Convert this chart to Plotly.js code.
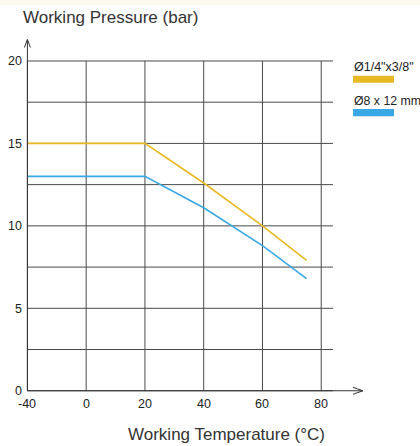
<!DOCTYPE html>
<html>
<head>
<meta charset="utf-8">
<script src="https://cdn.plot.ly/plotly-3.0.1.min.js"></script>
<style>html,body{margin:0;padding:0;background:#fff;}</style>
</head>
<body>
<div id="chart" style="width:420px;height:446px;"></div>
<script>
// ---- data ----
var temperatures = [-40, 20, 40, 60, 75];
var pressureQuarter = [15, 15, 12.6, 10, 7.9];   // Ø1/4"x3/8"
var pressure8x12 = [13, 13, 11.1, 8.8, 6.8];     // Ø8 x 12 mm
var seriesNames = ['Ø1/4"x3/8"', 'Ø8 x 12 mm'];
var xTickValues = [-40, 0, 20, 40, 60, 80];
var yTickValues = [0, 5, 10, 15, 20];
var yGridValues = [0, 2.5, 5, 7.5, 10, 12.5, 15, 17.5, 20];

// axis has a compressed segment: -40..0 occupies the same width as 0..20
function axisPos(t) { return t < 0 ? t / 2 : t; }

var colors = ['#e8b923', '#3aa8e4'];
var gridColor = '#4a4a4a';

var traces = [
  {x: temperatures.map(axisPos), y: pressureQuarter, name: seriesNames[0], mode: 'lines',
   line: {color: colors[0], width: 1.6}, showlegend: false},
  {x: temperatures.map(axisPos), y: pressure8x12, name: seriesNames[1], mode: 'lines',
   line: {color: colors[1], width: 1.6}, showlegend: false}
];

var xMin = axisPos(xTickValues[0]);
var yMax = yTickValues[yTickValues.length - 1];

// plot area: 357.4px for x range 121.5, 371.25px for y range 22.5
var pxX = 121.5 / 357.4, pxY = 22.5 / 371.25;

var shapes = [];
// top cream strip
shapes.push({type: 'rect', xref: 'paper', yref: 'paper', x0: -0.1, x1: 1.2, y0: 1.062, y1: 1.076,
  fillcolor: '#fcf9ef', line: {width: 0}, layer: 'below'});
// horizontal grid lines
yGridValues.forEach(function (v) {
  shapes.push({type: 'line', xref: 'x', yref: 'y', x0: xMin, x1: 84, y0: v, y1: v,
    line: {color: gridColor, width: 1}, layer: 'below'});
});
// vertical grid lines
xTickValues.forEach(function (t) {
  shapes.push({type: 'line', xref: 'x', yref: 'y', x0: axisPos(t), x1: axisPos(t), y0: 0, y1: yMax,
    line: {color: gridColor, width: 1}, layer: 'below'});
});
// axis lines with arrows
var yTip = 21.3, xTip = 94.2;
shapes.push({type: 'line', xref: 'x', yref: 'y', x0: xMin, x1: xMin, y0: 0, y1: yTip,
  line: {color: '#333', width: 1}});
shapes.push({type: 'line', xref: 'x', yref: 'y', x0: xMin, x1: xTip, y0: 0, y1: 0,
  line: {color: '#333', width: 1}});
shapes.push({type: 'path', xref: 'x', yref: 'y',
  path: 'M' + (xMin - 3 * pxX) + ',' + (yTip - 8 * pxY) + ' L' + xMin + ',' + yTip + ' L' + (xMin + 3 * pxX) + ',' + (yTip - 8 * pxY),
  line: {color: '#333', width: 1}});
shapes.push({type: 'path', xref: 'x', yref: 'y',
  path: 'M' + (xTip - 10 * pxX) + ',' + (3.5 * pxY) + ' L' + xTip + ',0 L' + (xTip - 10 * pxX) + ',' + (-3.5 * pxY),
  line: {color: '#333', width: 1}});
// legend swatches
shapes.push({type: 'rect', xref: 'paper', yref: 'paper', x0: 0.9245, x1: 1.0392, y0: 0.8527, y1: 0.8715,
  fillcolor: colors[0], line: {width: 0}});
shapes.push({type: 'rect', xref: 'paper', yref: 'paper', x0: 0.9245, x1: 1.0392, y0: 0.7619, y1: 0.7815,
  fillcolor: colors[1], line: {width: 0}});

var font = 'Liberation Sans, Arial, sans-serif';
var annotations = [
  {text: 'Working Pressure (bar)', xref: 'paper', yref: 'paper', x: -0.006, y: 1.0296,
   xanchor: 'left', yanchor: 'middle', showarrow: false, font: {family: font, size: 17, color: '#333'}},
  {text: 'Working Temperature (°C)', xref: 'paper', yref: 'paper', x: 0.569, y: -0.0963,
   xanchor: 'center', yanchor: 'middle', showarrow: false, font: {family: font, size: 17, color: '#333'}},
  {text: seriesNames[0], xref: 'paper', yref: 'paper', x: 0.9203, y: 0.8949,
   xanchor: 'left', yanchor: 'middle', showarrow: false, font: {family: font, size: 12.5, color: '#222'}},
  {text: seriesNames[1], xref: 'paper', yref: 'paper', x: 0.9203, y: 0.8034,
   xanchor: 'left', yanchor: 'middle', showarrow: false, font: {family: font, size: 12.3, color: '#222'}}
];
// x tick labels placed just under the axis line
xTickValues.forEach(function (t) {
  annotations.push({text: String(t), xref: 'x', yref: 'y', x: axisPos(t), y: 0, yshift: -13,
    xanchor: 'center', yanchor: 'middle', showarrow: false,
    font: {family: font, size: 12.5, color: '#222'}});
});

var layout = {
  width: 420, height: 446,
  margin: {l: 22.6, r: 40, t: 28, b: 46.75, pad: 0},
  paper_bgcolor: '#ffffff', plot_bgcolor: 'rgba(0,0,0,0)',
  showlegend: false,
  xaxis: {range: [-21.5, 100], showgrid: false, zeroline: false, showline: false,
    tickmode: 'array', tickvals: xTickValues.map(axisPos), ticktext: xTickValues.map(String),
    showticklabels: false, ticks: '', fixedrange: true},
  yaxis: {range: [-0.5, 22], showgrid: false, zeroline: false, showline: false,
    tickmode: 'array', tickvals: yTickValues, ticktext: yTickValues.map(String),
    ticks: '', ticklabelstandoff: 0, tickfont: {family: font, size: 12.5, color: '#222'}, fixedrange: true},
  shapes: shapes,
  annotations: annotations
};

Plotly.newPlot('chart', traces, layout, {displayModeBar: false, staticPlot: true});
</script>
</body>
</html>
